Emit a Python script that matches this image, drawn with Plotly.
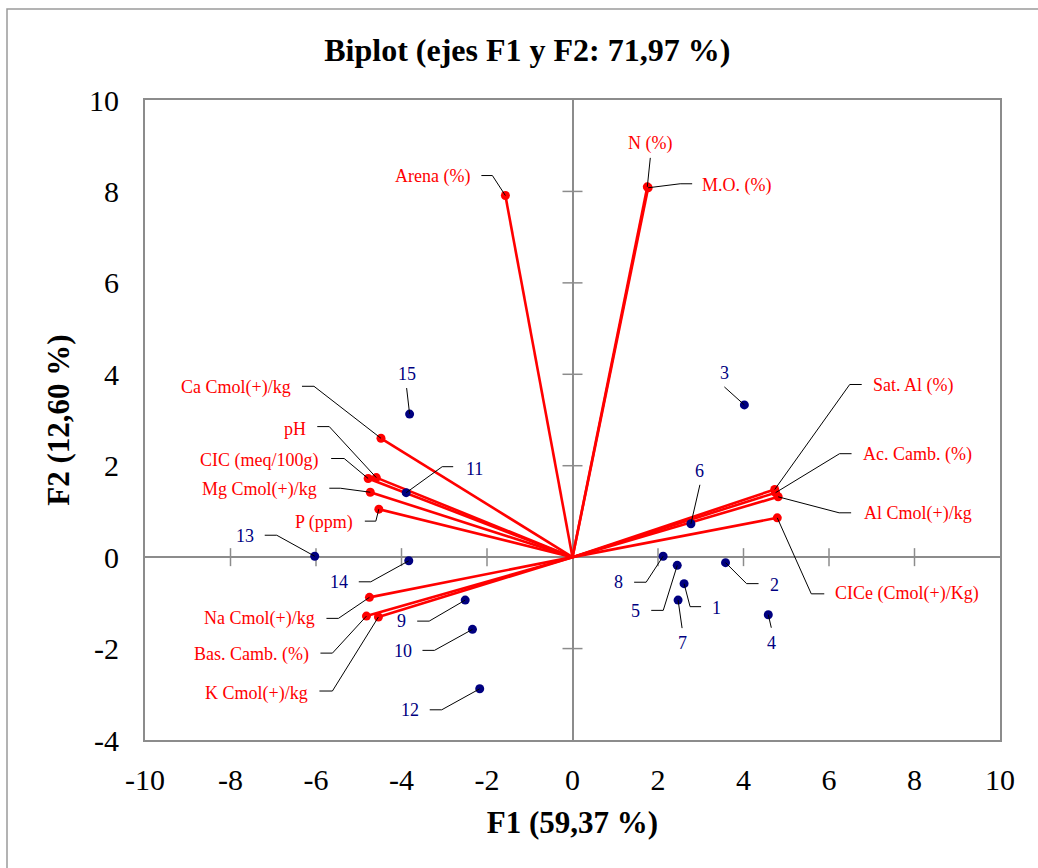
import plotly.graph_objects as go

# --- Variable loadings (F1, F2) ---
variables = ["Arena (%)", "N (%)", "M.O. (%)", "Ca Cmol(+)/kg", "pH",
             "CIC (meq/100g)", "Mg Cmol(+)/kg", "P (ppm)", "Na Cmol(+)/kg",
             "Bas. Camb. (%)", "K Cmol(+)/kg", "Sat. Al (%)", "Ac. Camb. (%)",
             "Al Cmol(+)/kg", "CICe (Cmol(+)/Kg)"]
var_f1 = [-1.57, 1.75, 1.77, -4.48, -4.59, -4.78, -4.73, -4.53, -4.75,
          -4.82, -4.54, 4.73, 4.75, 4.81, 4.79]
var_f2 = [7.91, 8.10, 8.08, 2.60, 1.74, 1.72, 1.42, 1.05, -0.88,
          -1.29, -1.31, 1.48, 1.41, 1.32, 0.86]

# --- Observation scores (F1, F2) ---
observations = [str(i) for i in range(1, 16)]
obs_f1 = [2.61, 3.58, 4.02, 4.58, 2.45, 2.77, 2.47, 2.12, -2.51, -2.34,
          -3.89, -2.17, -6.03, -3.83, -3.81]
obs_f2 = [-0.58, -0.12, 3.33, -1.26, -0.18, 0.73, -0.94, 0.02, -0.94, -1.58,
          1.41, -2.88, 0.02, -0.08, 3.13]

x_ticks = [-10, -8, -6, -4, -2, 0, 2, 4, 6, 8, 10]
y_ticks = [-4, -2, 0, 2, 4, 6, 8, 10]

RED = "#FF0000"
NAVY = "#000080"
GRID = "#8C8C8C"
FONT = "Liberation Serif"

# Label placement: text anchor, text offset (px, screen y down) and leader
# polyline offsets (px) from the label side towards the point.
var_labels = {
    "Arena (%)":         ("right", -33, -19, [(-24, -20), (-13, -20)]),
    "N (%)":             ("center", 3, -43, [(3, -29)]),
    "M.O. (%)":          ("left", 52, -2, [(44, -4), (32, -4)]),
    "Ca Cmol(+)/kg":     ("right", -88, -51, [(-79, -52), (-67, -52)]),
    "pH":                ("right", -68, -49, [(-59, -51), (-47, -51)]),
    "CIC (meq/100g)":    ("right", -47, -18, [(-37, -20), (-24, -20)]),
    "Mg Cmol(+)/kg":     ("right", -51, -3, [(-41, -4), (-30, -4)]),
    "P (ppm)":           ("right", -24, 13, [(-14, 12), (-3, 12)]),
    "Na Cmol(+)/kg":     ("right", -52, 21, [(-43, 21), (-31, 21)]),
    "Bas. Camb. (%)":    ("right", -55, 38, [(-46, 37), (-34, 37)]),
    "K Cmol(+)/kg":      ("right", -68, 76, [(-59, 74), (-46, 74)]),
    "Sat. Al (%)":       ("left", 96, -104, [(87, -105), (75, -105)]),
    "Ac. Camb. (%)":     ("left", 85, -38, [(76, -39), (64, -39)]),
    "Al Cmol(+)/kg":     ("left", 84, 17, [(73, 16), (61, 16)]),
    "CICe (Cmol(+)/Kg)": ("left", 56, 76, [(47, 76), (34, 76)]),
}
obs_labels = {
    "1":  ("left", 26, 24, [(17, 23), (6, 23)]),
    "2":  ("left", 42, 22, [(33, 21), (21, 21)]),
    "3":  ("center", -20, -32, [(-20, -18)]),
    "4":  ("center", 3, 28, [(3, 13)]),
    "5":  ("right", -35, 46, [(-26, 45), (-14, 45)]),
    "6":  ("center", 9, -53, [(9, -39)]),
    "7":  ("center", 4, 43, [(4, 28)]),
    "8":  ("right", -38, 26, [(-29, 26), (-17, 26)]),
    "9":  ("right", -57, 21, [(-48, 21), (-36, 21)]),
    "10": ("right", -58, 22, [(-50, 21), (-38, 21)]),
    "11": ("left", 58, -24, [(47, -26), (36, -26)]),
    "12": ("right", -59, 21, [(-50, 21), (-38, 21)]),
    "13": ("right", -59, -20, [(-50, -21), (-38, -21)]),
    "14": ("right", -59, 21, [(-50, 21), (-38, 21)]),
    "15": ("center", -3, -40, [(-3, -26)]),
}

fig = go.Figure()

# Loading vectors from the origin
vx, vy = [], []
for a, b in zip(var_f1, var_f2):
    vx += [0, a, None]
    vy += [0, b, None]
fig.add_trace(go.Scatter(x=vx, y=vy, mode="lines",
                         line=dict(color=RED, width=2.6),
                         hoverinfo="skip", showlegend=False))
fig.add_trace(go.Scatter(x=var_f1, y=var_f2, mode="markers", text=variables,
                         marker=dict(color=RED, size=9),
                         hovertemplate="%{text}<extra></extra>",
                         showlegend=False))
fig.add_trace(go.Scatter(x=obs_f1, y=obs_f2, mode="markers", text=observations,
                         marker=dict(color=NAVY, size=9),
                         hovertemplate="%{text}<extra></extra>",
                         showlegend=False))

shapes = []
annotations = []


def add_label(name, px, py, spec, color):
    anchor, dx, dy, leader = spec
    pts = leader + [(0, 0)]
    path = "M " + " L ".join(f"{ox},{-oy}" for ox, oy in pts)
    shapes.append(dict(type="path", xref="x", yref="y",
                       xsizemode="pixel", ysizemode="pixel",
                       xanchor=px, yanchor=py, path=path,
                       line=dict(color="black", width=1), layer="above"))
    annotations.append(dict(x=px, y=py, xref="x", yref="y", text=name,
                            showarrow=False, xanchor=anchor, yanchor="middle",
                            xshift=dx, yshift=-dy,
                            font=dict(family=FONT, size=18, color=color)))


for n, a, b in zip(variables, var_f1, var_f2):
    add_label(n, a, b, var_labels[n], RED)
for n, a, b in zip(observations, obs_f1, obs_f2):
    add_label(n, a, b, obs_labels[n], NAVY)

# Tick marks crossing the zero axes
for t in x_ticks[1:-1]:
    if t != 0:
        shapes.append(dict(type="line", xref="x", yref="y", ysizemode="pixel",
                           yanchor=0, x0=t, x1=t, y0=-9, y1=9,
                           line=dict(color=GRID, width=1.5), layer="below"))
for t in y_ticks[1:-1]:
    if t != 0:
        shapes.append(dict(type="line", xref="x", yref="y", xsizemode="pixel",
                           xanchor=0, y0=t, y1=t, x0=-10, x1=10,
                           line=dict(color=GRID, width=1.5), layer="below"))

# Outer chart frame
shapes.append(dict(type="rect", xref="paper", yref="paper",
                   x0=(7 - 145) / 855, x1=1.2, y0=-0.4, y1=(740 - 9) / 640,
                   line=dict(color="#9A9A9A", width=1.5),
                   fillcolor="rgba(0,0,0,0)", layer="below"))

fig.update_layout(
    width=1038, height=868,
    margin=dict(l=145, r=38, t=100, b=128, autoexpand=False),
    paper_bgcolor="white", plot_bgcolor="white",
    font=dict(family=FONT, color="black"),
    title=dict(text="<b>Biplot (ejes F1 y F2: 71,97 %)</b>",
               x=0.508, xref="container", xanchor="center",
               y=1 - 50 / 868, yref="container", yanchor="middle",
               font=dict(family=FONT, size=32, color="black")),
    shapes=shapes, annotations=annotations,
)
fig.update_xaxes(range=[-10, 10], tickvals=x_ticks,
                 ticktext=[str(t) for t in x_ticks],
                 ticks="outside", ticklen=12, tickcolor="rgba(0,0,0,0)",
                 tickfont=dict(family=FONT, size=30, color="black"),
                 showgrid=False, zeroline=True, zerolinecolor=GRID,
                 zerolinewidth=1.5, showline=True, linecolor=GRID,
                 linewidth=2, mirror=True,
                 title=dict(text="<b>F1 (59,37 %)</b>", standoff=16,
                            font=dict(family=FONT, size=31, color="black")))
fig.update_yaxes(range=[-4, 10], tickvals=y_ticks,
                 ticktext=[str(t) for t in y_ticks],
                 ticks="outside", ticklen=18, tickcolor="rgba(0,0,0,0)",
                 tickfont=dict(family=FONT, size=30, color="black"),
                 showgrid=False, zeroline=True, zerolinecolor=GRID,
                 zerolinewidth=1.5, showline=True, linecolor=GRID,
                 linewidth=2, mirror=True,
                 title=dict(text="<b>F2 (12,60 %)</b>", standoff=10,
                            font=dict(family=FONT, size=31, color="black")))

fig.write_html("out.html")
